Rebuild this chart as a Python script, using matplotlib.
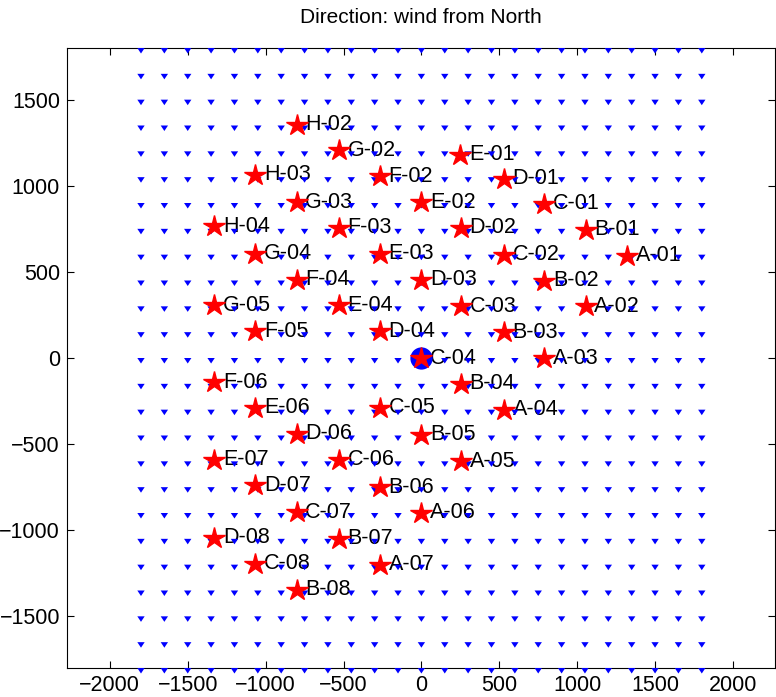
import numpy as np
import matplotlib
matplotlib.use("Agg")
import matplotlib.pyplot as plt

plt.rcParams["font.family"] = ["Liberation Sans", "DejaVu Sans"]

# turbine layout (m)
names = ["H-02", "G-02", "E-01", "H-03", "F-02", "D-01", "G-03", "E-02", "C-01",
         "H-04", "F-03", "D-02", "B-01", "G-04", "E-03", "C-02", "A-01",
         "F-04", "D-03", "B-02", "G-05", "E-04", "C-03", "A-02",
         "F-05", "D-04", "B-03", "C-04", "A-03", "F-06", "B-04",
         "E-06", "C-05", "A-04", "D-06", "B-05", "E-07", "C-06", "A-05",
         "D-07", "B-06", "C-07", "A-06", "D-08", "B-07", "C-08", "A-07", "B-08"]
xs = [-800, -530, 250, -1065, -265, 530, -800, 0, 790,
      -1330, -530, 255, 1055, -1065, -265, 530, 1320,
      -800, 0, 790, -1330, -530, 255, 1055,
      -1065, -265, 530, 0, 790, -1330, 255,
      -1065, -265, 530, -800, 0, -1330, -530, 255,
      -1065, -265, -800, 0, -1330, -530, -1065, -265, -800]
ys = [1355, 1205, 1180, 1065, 1055, 1040, 905, 905, 895,
      765, 755, 755, 745, 605, 605, 600, 595,
      455, 455, 450, 305, 305, 300, 300,
      155, 155, 150, 0, 0, -140, -150,
      -290, -290, -300, -440, -445, -590, -590, -600,
      -740, -750, -895, -900, -1045, -1050, -1195, -1200, -1345]

# wind field grid, wind from North -> blowing south
grid_x = np.arange(-1800, 1801, 150)
grid_y = np.arange(-1800, 1801, 150)
wind_u, wind_v = 0.0, -1.0

fig = plt.figure(figsize=(7.76, 6.97), dpi=100)
ax = fig.add_axes([67 / 776, 29 / 697, 708 / 776, 620 / 697])

GX, GY = np.meshgrid(grid_x, grid_y)
ax.quiver(GX, GY, np.full(GX.shape, wind_u), np.full(GY.shape, wind_v),
          color="blue", angles="xy", scale_units="xy", scale=1 / 32,
          width=0.0026, headwidth=4, headlength=3, headaxislength=3,
          zorder=3, clip_on=False)

ax.plot(0, 0, "o", color="blue", markersize=15, zorder=4)
ax.plot(xs, ys, "*", color="red", markersize=16, markeredgecolor="red", zorder=5)
for n, x, y in zip(names, xs, ys):
    ax.text(x + 55, y, n, fontsize=15.5, ha="left", va="center", zorder=2)

ax.set_xlim(-2275, 2270)
ax.set_ylim(-1800, 1800)
ax.set_xticks(np.arange(-2000, 2001, 500))
ax.set_yticks(np.arange(-1500, 1501, 500))
ax.tick_params(direction="in", top=True, right=True, length=5, labelsize=15.5, pad=5)
ax.set_title("Direction: wind from North", fontsize=15, pad=18)

fig.savefig("out.png", dpi=100)
